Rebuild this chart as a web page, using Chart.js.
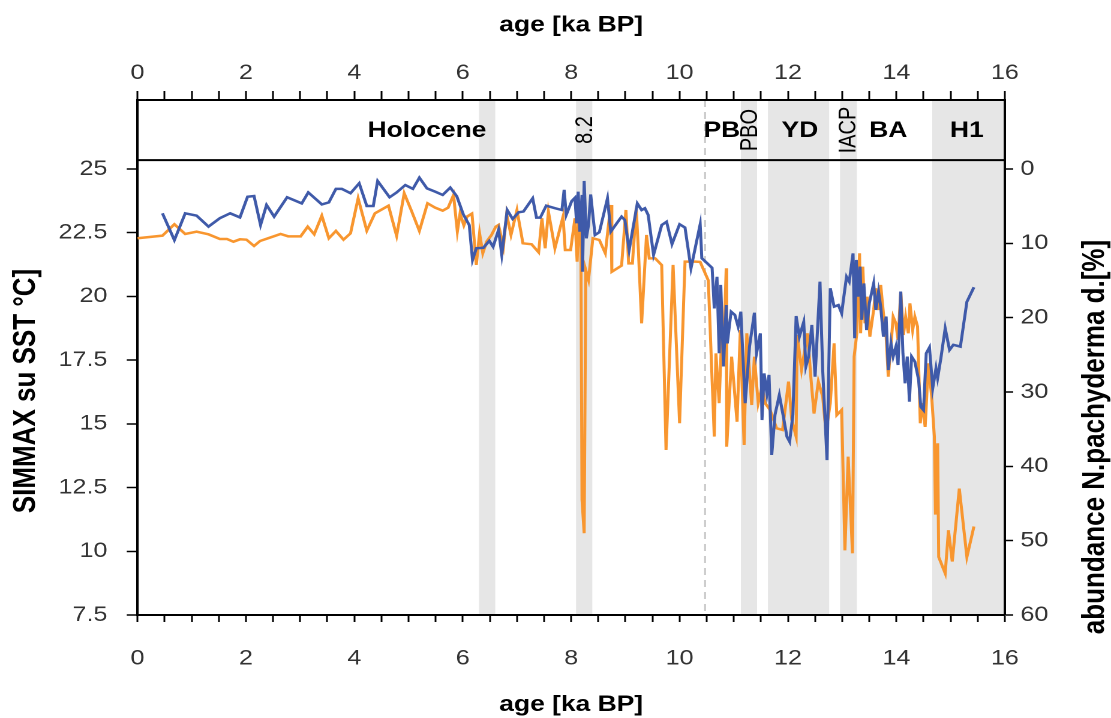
<!DOCTYPE html>
<html lang="en">
<head>
<meta charset="UTF-8">
<title>SST and N. pachyderma abundance</title>
<script src="https://cdn.jsdelivr.net/npm/chart.js@4.4.1/dist/chart.umd.min.js"></script>
<style>
  body { margin: 0; background: #fff; }
  #chart { display: block; }
</style>
</head>
<body>
<!-- drawn at 926 px wide and shown 1111 px wide, like the stretched original -->
<canvas id="chart" width="926" height="718" style="width:1111px;height:718px"></canvas>
<script>
// SIMMAX summer SST (left axis)
const sstAge = [0.46, 0.68, 0.88, 1.09, 1.31, 1.52, 1.71, 1.89, 2.03, 2.15, 2.27, 2.38, 2.52, 2.76, 3.03, 3.15, 3.40, 3.53, 3.66, 3.77,
  3.93, 4.09, 4.23, 4.35, 4.43, 4.65, 4.78, 4.94, 5.08, 5.20, 5.34, 5.49, 5.63, 5.77, 5.89, 6.01, 6.12, 6.18, 6.25, 6.38,
  6.49, 6.56, 6.66, 6.72, 6.82, 6.92, 7.03, 7.12, 7.29, 7.36, 7.43, 7.54, 7.70, 7.83, 7.87, 7.91, 8.01, 8.07, 8.10, 8.13,
  8.16, 8.20, 8.21, 8.24, 8.28, 8.32, 8.36, 8.44, 8.52, 8.67, 8.73, 8.93, 8.99, 9.07, 9.22, 9.30, 9.36, 9.42, 9.52, 9.67,
  9.76, 9.86, 10.00, 10.10, 10.21, 10.38, 10.41, 10.53, 10.60, 10.64, 10.69, 10.73, 10.76, 10.81, 10.86, 10.88, 10.95, 11.02, 11.08, 11.13,
  11.17, 11.21, 11.29, 11.38, 11.42, 11.49, 11.52, 11.56, 11.61, 11.65, 11.70, 11.76, 11.84, 11.92, 11.98, 12.03, 12.09, 12.15, 12.21, 12.29,
  12.33, 12.38, 12.44, 12.50, 12.59, 12.64, 12.72, 12.78, 12.85, 12.93, 12.99, 13.03, 13.08, 13.13, 13.20, 13.23, 13.26, 13.29, 13.33, 13.36,
  13.40, 13.45, 13.50, 13.54, 13.58, 13.62, 13.67, 13.71, 13.76, 13.81, 13.85, 13.90, 13.94, 13.99, 14.03, 14.08, 14.12, 14.16, 14.20, 14.24,
  14.28, 14.34, 14.41, 14.45, 14.50, 14.55, 14.61, 14.67, 14.73, 14.76, 14.82, 14.90, 14.98, 15.05, 15.18, 15.30, 15.43];
const sstValue = [23.26, 22.21, 23.26, 23.17, 22.74, 23.07, 23.26, 23.10, 23.91, 23.94, 22.80, 23.59, 23.13, 23.89, 23.65, 24.08, 23.61, 23.69, 24.22, 24.22,
  24.05, 24.44, 23.55, 23.55, 24.53, 23.89, 24.08, 24.37, 24.22, 24.66, 24.24, 24.11, 23.98, 24.27, 23.93, 23.22, 22.80, 21.43, 21.89, 21.91,
  22.18, 21.95, 22.61, 21.63, 23.39, 23.04, 23.30, 23.33, 23.85, 23.09, 23.09, 23.56, 23.46, 23.39, 24.18, 23.20, 23.74, 23.87, 22.87, 24.11,
  22.54, 23.98, 20.97, 24.53, 22.28, 22.80, 24.00, 22.41, 22.52, 23.85, 22.54, 23.13, 23.00, 21.82, 23.65, 23.39, 23.46, 23.20, 21.63, 22.80,
  22.93, 22.05, 22.83, 22.70, 21.10, 22.83, 21.50, 21.26, 21.12, 19.53, 20.77, 17.77, 20.45, 17.25, 19.66, 18.16, 19.40, 19.27, 18.81, 19.40,
  17.57, 15.81, 18.03, 19.36, 17.77, 18.55, 15.15, 16.98, 16.20, 16.92, 13.78, 15.35, 16.13, 15.22, 14.50, 14.30, 15.35, 19.23, 18.42, 19.00,
  17.25, 17.64, 18.88, 16.85, 20.58, 17.11, 13.58, 20.32, 19.60, 19.66, 19.34, 19.99, 20.77, 20.58, 21.69, 18.36, 21.43, 19.99, 21.17, 19.08,
  20.51, 18.68, 19.73, 20.12, 20.51, 19.47, 20.19, 19.60, 18.42, 19.21, 17.11, 18.16, 17.64, 18.03, 17.31, 20.19, 17.77, 16.59, 17.64, 15.87,
  17.64, 17.44, 16.72, 15.67, 15.54, 17.77, 18.00, 16.40, 17.18, 16.79, 17.57, 18.75, 17.90, 18.10, 18.03, 19.79, 20.36];

// N. pachyderma d. abundance in % (right axis, reversed)
const pachAge = [0.00, 0.46, 0.68, 0.88, 1.09, 1.31, 1.52, 1.65, 1.77, 1.89, 2.01, 2.15, 2.26, 2.44, 2.64, 2.78, 3.01, 3.14, 3.26, 3.40,
  3.53, 3.66, 3.80, 3.93, 4.07, 4.23, 4.38, 4.63, 4.78, 4.92, 5.06, 5.20, 5.35, 5.49, 5.63, 5.73, 5.83, 5.90, 5.95, 6.02,
  6.08, 6.17, 6.25, 6.31, 6.37, 6.44, 6.53, 6.61, 6.66, 6.75, 6.81, 6.89, 7.00, 7.11, 7.27, 7.40, 7.46, 7.52, 7.58, 7.70,
  7.85, 7.89, 7.99, 8.07, 8.11, 8.15, 8.18, 8.20, 8.24, 8.27, 8.32, 8.40, 8.52, 8.63, 8.73, 8.75, 8.93, 9.01, 9.06, 9.13,
  9.20, 9.24, 9.30, 9.39, 9.44, 9.55, 9.67, 9.75, 9.88, 10.00, 10.10, 10.29, 10.38, 10.53, 10.64, 10.67, 10.73, 10.78, 10.81, 10.86,
  10.87, 10.96, 11.06, 11.12, 11.19, 11.24, 11.33, 11.38, 11.45, 11.52, 11.58, 11.67, 11.79, 11.90, 12.01, 12.07, 12.15, 12.17, 12.25, 12.36,
  12.42, 12.48, 12.56, 12.64, 12.70, 12.78, 12.85, 12.90, 12.99, 13.05, 13.11, 13.19, 13.22, 13.27, 13.32, 13.34, 13.38, 13.42, 13.46, 13.51,
  13.58, 13.62, 13.67, 13.71, 13.76, 13.81, 13.85, 13.90, 13.94, 13.99, 14.03, 14.08, 14.13, 14.17, 14.22, 14.25, 14.30, 14.34, 14.39, 14.44,
  14.48, 14.53, 14.59, 14.65, 14.70, 14.72, 14.76, 14.78, 14.90, 14.96, 15.03, 15.16, 15.30, 15.43];
const pachValue = [9.32, 8.97, 7.44, 8.74, 8.43, 8.79, 9.42, 9.42, 9.78, 9.46, 9.51, 10.36, 9.69, 9.24, 8.74, 9.06, 9.06, 7.76, 8.79, 6.28,
  9.32, 8.34, 9.51, 8.65, 3.94, 8.30, 5.96, 4.94, 9.01, 3.27, 5.74, 8.34, 4.61, 5.20, 5.61, 5.20, 3.50, 8.43, 6.00, 7.60,
  6.40, 6.00, 12.90, 8.65, 11.34, 9.78, 8.88, 7.76, 7.53, 10.45, 6.09, 8.88, 5.52, 10.00, 10.13, 11.21, 6.63, 10.67, 5.74, 10.67,
  6.42, 10.90, 10.90, 6.63, 12.47, 4.84, 10.67, 44.50, 49.00, 13.60, 14.90, 9.32, 9.55, 11.34, 4.84, 13.82, 13.00, 5.52, 12.70, 12.70,
  5.29, 10.90, 20.76, 8.88, 12.02, 12.02, 12.92, 37.80, 12.90, 34.20, 12.47, 12.47, 12.50, 15.00, 36.00, 24.80, 31.50, 21.70, 25.25, 13.36,
  37.36, 25.25, 34.00, 21.66, 37.13, 22.10, 31.75, 25.25, 31.52, 29.29, 31.52, 32.42, 34.88, 35.10, 28.60, 33.77, 36.00, 22.33, 27.00, 22.10,
  27.90, 32.90, 28.60, 30.63, 35.34, 31.52, 23.45, 33.10, 32.42, 51.30, 38.70, 51.70, 25.25, 22.10, 11.34, 22.10, 13.14, 20.76, 17.18, 22.56,
  18.97, 16.05, 18.97, 15.60, 19.41, 22.56, 27.94, 23.68, 19.87, 20.76, 23.00, 16.50, 22.33, 19.87, 22.10, 18.07, 21.66, 19.87, 21.20, 34.20,
  31.50, 34.70, 26.14, 30.63, 36.00, 46.50, 36.90, 52.20, 54.40, 48.60, 52.80, 43.00, 52.20, 48.10];

// climate periods (ka BP)
const bandStart = [6.30, 8.09, 11.13, 11.63, 12.96, 14.66];
const bandEnd = [6.60, 8.39, 11.43, 12.76, 13.27, 16.00];
const boundaryAge = 10.47;
const labelText = ['Holocene', '8.2', 'PB', 'PBO', 'YD', 'IACP', 'BA', 'H1'];
const labelAge = [5.34, 8.24, 10.78, 11.28, 12.22, 13.10, 13.85, 15.30];
const labelRotated = [false, true, false, true, false, true, false, false];

const sstTicks = [7.5, 10, 12.5, 15, 17.5, 20, 22.5, 25];
const pachTicks = [0, 10, 20, 30, 40, 50, 60];
const panelTop = 25.35; // SST value at the line under the period header

const FONT = "'Liberation Sans', Arial, sans-serif";
Chart.defaults.font.family = FONT;

const tickFont = { size: 21 };
const titleFont = { size: 22, weight: 'bold' };

function xAxis(position, height, pad, titlePad) {
    return {
        type: 'linear',
        position: position,
        min: 0,
        max: 16,
        afterFit: s => { s.height = height; },
        ticks: {
            stepSize: 0.5,
            autoSkip: false,
            maxRotation: 0,
            padding: pad,
            font: tickFont,
            color: '#333',
            callback: v => (v % 2 === 0 ? String(v) : '')
        },
        grid: { drawOnChartArea: false, tickLength: position === 'top' ? 9 : 7, tickColor: '#000', tickWidth: 1.5 },
        border: { color: '#000', width: 2 },
        title: { display: true, text: 'age [ka BP]', font: titleFont, color: '#000', padding: titlePad }
    };
}

const periodPlugin = {
    id: 'periods',
    beforeDraw(chart) {
        const { ctx, chartArea: a, scales: { x } } = chart;
        ctx.save();
        ctx.fillStyle = '#e6e6e6';
        bandStart.forEach((s, i) => {
            const x0 = x.getPixelForValue(s);
            const x1 = x.getPixelForValue(bandEnd[i]);
            ctx.fillRect(x0, a.top, x1 - x0, a.bottom - a.top);
        });
        const xd = x.getPixelForValue(boundaryAge);
        ctx.strokeStyle = '#c8c8c8';
        ctx.lineWidth = 1.5;
        ctx.setLineDash([7, 5]);
        ctx.beginPath();
        ctx.moveTo(xd, a.top);
        ctx.lineTo(xd, a.bottom);
        ctx.stroke();
        ctx.restore();
    },
    afterDraw(chart) {
        const { ctx, chartArea: a, scales: { x, y } } = chart;
        const yLine = y.getPixelForValue(panelTop);
        ctx.save();
        ctx.strokeStyle = '#000';
        ctx.lineWidth = 2;
        ctx.beginPath();
        ctx.moveTo(a.left, yLine);
        ctx.lineTo(a.right, yLine);
        ctx.stroke();

        const yMid = (a.top + yLine) / 2;
        ctx.fillStyle = '#000';
        ctx.textAlign = 'center';
        ctx.textBaseline = 'middle';
        labelText.forEach((t, i) => {
            const px = x.getPixelForValue(labelAge[i]);
            if (labelRotated[i]) {
                ctx.save();
                ctx.translate(px, yMid);
                ctx.rotate(-Math.PI / 2);
                ctx.font = '20px ' + FONT;
                ctx.fillText(t, 0, 1);
                ctx.restore();
            } else {
                ctx.font = 'bold 22px ' + FONT;
                ctx.fillText(t, px, yMid + 1);
            }
        });

        // y-axis titles
        ctx.font = 'bold 26px ' + FONT;
        ctx.save();
        ctx.translate(22, 391);
        ctx.rotate(-Math.PI / 2);
        ctx.fillText('SIMMAX su SST °C]', 0, 0);
        ctx.restore();
        ctx.save();
        ctx.translate(913, 437);
        ctx.rotate(-Math.PI / 2);
        ctx.fillText('abundance N.pachyderma d.[%]', 0, 0);
        ctx.restore();
        ctx.restore();
    }
};

new Chart(document.getElementById('chart'), {
    type: 'scatter',
    data: {
        datasets: [
            {
                label: 'SIMMAX su SST',
                data: sstAge.map((a, i) => ({ x: a, y: sstValue[i] })),
                showLine: true,
                borderColor: '#3f5aa9',
                borderWidth: 2.5,
                pointRadius: 0,
                yAxisID: 'y',
                xAxisID: 'x'
            },
            {
                label: 'N.pachyderma d.',
                data: pachAge.map((a, i) => ({ x: a, y: pachValue[i] })),
                showLine: true,
                borderColor: '#f8962f',
                borderWidth: 2.5,
                pointRadius: 0,
                yAxisID: 'y2',
                xAxisID: 'x'
            }
        ]
    },
    options: {
        responsive: false,
        animation: false,
        devicePixelRatio: 2,
        layout: { padding: 0 },
        plugins: { legend: { display: false }, tooltip: { enabled: false } },
        scales: {
            x: xAxis('bottom', 103, 24, { top: 0, bottom: 0 }),
            x2: xAxis('top', 100, 5, { top: 12, bottom: 0 }),
            y: {
                position: 'left',
                min: 7.5,
                max: 27.707,
                afterFit: s => { s.width = 114.6; },
                afterBuildTicks: s => { s.ticks = sstTicks.map(v => ({ value: v })); },
                ticks: { padding: 16, font: tickFont, color: '#333', callback: v => String(v) },
                grid: { drawOnChartArea: false, tickLength: 9, tickColor: '#000', tickWidth: 1.5 },
                border: { color: '#000', width: 2 }
            },
            y2: {
                position: 'right',
                reverse: true,
                min: -9.28,
                max: 60,
                afterFit: s => { s.width = 88.5; },
                afterBuildTicks: s => { s.ticks = pachTicks.map(v => ({ value: v })); },
                ticks: { padding: 6, font: tickFont, color: '#333', callback: v => String(v) },
                grid: { drawOnChartArea: false, tickLength: 7, tickColor: '#000', tickWidth: 1.5 },
                border: { color: '#000', width: 2 }
            }
        }
    },
    plugins: [periodPlugin]
});
</script>
</body>
</html>
